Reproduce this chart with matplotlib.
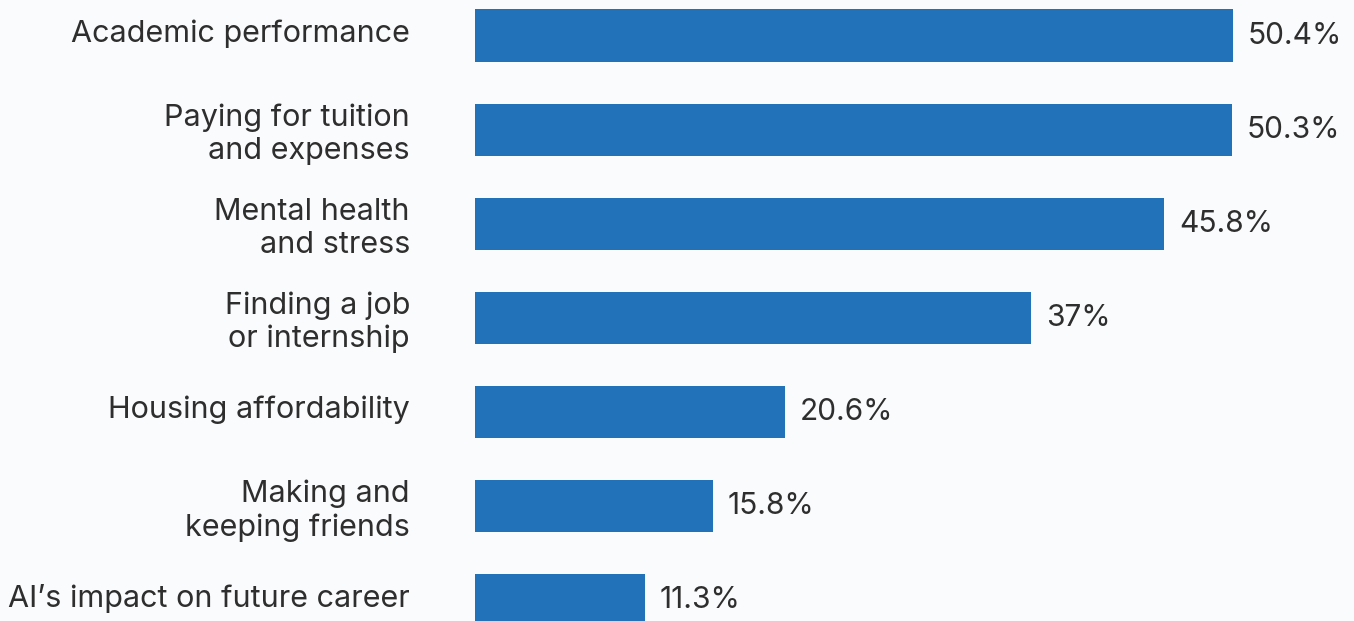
import matplotlib.pyplot as plt

# datos
categories = [
    "Academic performance",
    "Paying for tuition\nand expenses",
    "Mental health\nand stress",
    "Finding a job\nor internship",
    "Housing affordability",
    "Making and\nkeeping friends",
    "AI\u2019s impact on future career",
]
values = [50.4, 50.3, 45.8, 37, 20.6, 15.8, 11.3]
value_labels = ["50.4%", "50.3%", "45.8%", "37%", "20.6%", "15.8%", "11.3%"]

BG = '#FAFBFD'
BAR = '#2272BA'
TXT = '#2E2E2E'

plt.rcParams['font.family'] = ['Inter', 'DejaVu Sans']

W, H = 1354, 621
fig = plt.figure(figsize=(W / 100, H / 100), dpi=100, facecolor=BG)

# eje que empieza donde empiezan las barras
x0 = 475
px_per_unit = 15.04
ax = fig.add_axes([x0 / W, 0, 1 - x0 / W, 1])
ax.set_facecolor(BG)

step = 94.1
first = 35.5
ax.set_xlim(0, (W - x0) / px_per_unit)
ax.set_ylim((H - first) / step, -first / step)

pos = list(range(len(categories)))
ax.barh(pos, values, height=0.553, color=BAR)

for i, (v, lab) in enumerate(zip(values, value_labels)):
    ax.text(v + 15 / px_per_unit, i, lab, ha='left', va='center',
            fontsize=21.5, color=TXT)
    dy = 0.05 if '\n' in categories[i] else -0.02
    ax.text(-65 / px_per_unit, i + dy, categories[i], ha='right', va='center',
            fontsize=22, color=TXT, linespacing=1.22, clip_on=False,
            multialignment='right')

ax.axis('off')
fig.savefig('out.png', dpi=100, facecolor=BG)
